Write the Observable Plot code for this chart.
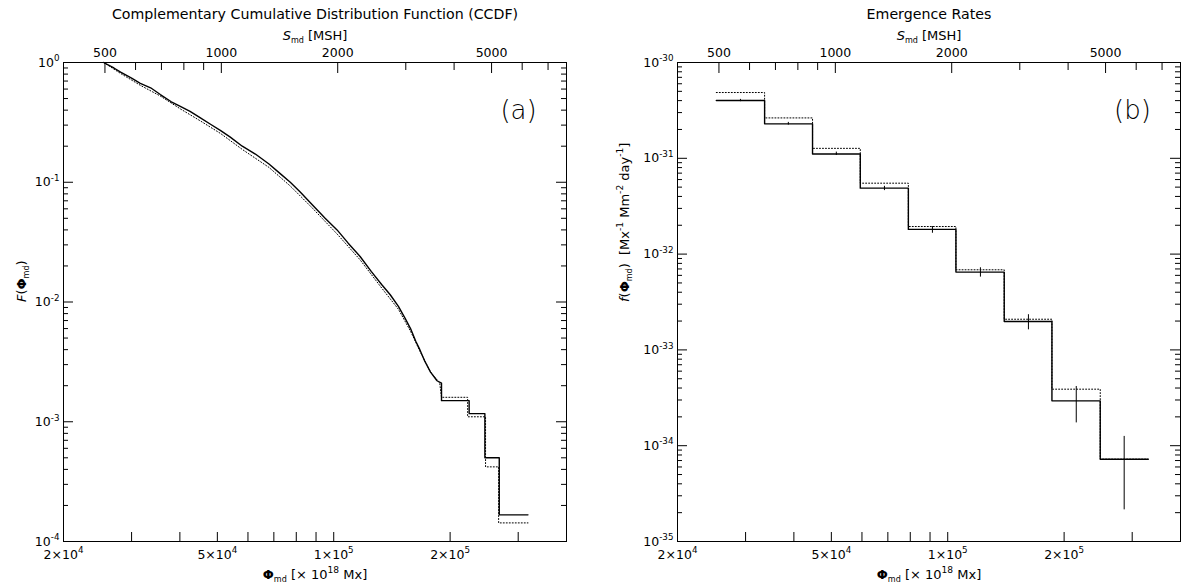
<!DOCTYPE html>
<html>
<head>
<meta charset="utf-8">
<script src="https://cdn.jsdelivr.net/npm/d3@7"></script>
<script src="https://cdn.jsdelivr.net/npm/@observablehq/plot@0.6"></script>
<style>
  html, body { margin: 0; padding: 0; background: #fff; }
  #wrap { position: relative; width: 1183px; height: 586px; overflow: hidden; }
  .panel { position: absolute; top: 0; }
</style>
</head>
<body>
<div id="wrap">
  <div id="left" class="panel" style="left:0px"></div>
  <div id="right" class="panel" style="left:590px"></div>
</div>
<script>
// ---------------- data ----------------
// Panel (a): CCDF, x = flux Phi_md [1e18 Mx], y = F
const ccdfPhi = [2.54e4, 2.70e4, 2.81e4, 3.00e4, 3.16e4, 3.36e4, 3.56e4, 3.80e4, 4.01e4, 4.25e4,
  4.52e4, 4.80e4, 5.10e4, 5.40e4, 5.80e4, 6.27e4, 6.80e4, 7.27e4, 7.72e4, 8.19e4,
  8.80e4, 9.50e4, 1.02e5, 1.09e5, 1.17e5, 1.25e5, 1.33e5, 1.40e5, 1.47e5, 1.53e5,
  1.58e5, 1.63e5, 1.67e5, 1.72e5, 1.78e5, 1.85e5, 1.90e5, 1.90e5, 2.24e5, 2.24e5,
  2.46e5, 2.46e5, 2.68e5, 2.68e5, 3.18e5];
const ccdfSolid = [1.0, 0.90, 0.83, 0.74, 0.67, 0.615, 0.54, 0.47, 0.43, 0.39,
  0.345, 0.305, 0.27, 0.238, 0.20, 0.172, 0.142, 0.118, 0.100, 0.083,
  0.065, 0.050, 0.040, 0.031, 0.024, 0.018, 0.0140, 0.0115, 0.0092, 0.0073,
  0.0060, 0.0047, 0.0040, 0.0032, 0.0026, 0.0022, 0.0021, 0.0015, 0.0015, 0.00117,
  0.00117, 0.0005, 0.0005, 0.000167, 0.000167];
const ccdfPhiDot = [2.54e4, 2.81e4, 3.16e4, 3.56e4, 4.01e4, 4.52e4, 5.10e4, 5.80e4, 6.80e4, 7.72e4,
  8.80e4, 1.02e5, 1.17e5, 1.33e5, 1.47e5, 1.58e5, 1.67e5, 1.78e5, 1.88e5, 1.90e5,
  2.22e5, 2.22e5, 2.47e5, 2.47e5, 2.67e5, 2.67e5, 3.18e5];
const ccdfDotted = [1.0, 0.81, 0.645, 0.525, 0.41, 0.325, 0.255, 0.188, 0.133, 0.093,
  0.061, 0.037, 0.0225, 0.0131, 0.0087, 0.0057, 0.0039, 0.0026, 0.0021, 0.0016,
  0.0016, 0.0011, 0.0011, 0.00042, 0.00042, 0.000143, 0.000143];

// Panel (b): emergence rates histogram
const rateEdges = [2.52e4, 3.36e4, 4.47e4, 5.94e4, 7.91e4, 1.05e5, 1.40e5, 1.86e5, 2.48e5, 3.30e5];
const rateCenters = [2.91e4, 3.87e4, 5.15e4, 6.86e4, 9.13e4, 1.215e5, 1.617e5, 2.15e5, 2.86e5];
const rateSolid = [4.01e-31, 2.29e-31, 1.11e-31, 4.88e-32, 1.81e-32, 6.49e-33, 1.98e-33, 2.94e-34, 7.23e-35];
const rateDotted = [4.86e-31, 2.64e-31, 1.27e-31, 5.5e-32, 1.94e-32, 6.86e-33, 2.09e-33, 3.89e-34, 7.23e-35];
const rateErrLo = [3.90e-31, 2.22e-31, 1.07e-31, 4.6e-32, 1.65e-32, 5.75e-33, 1.62e-33, 1.73e-34, 2.14e-35];
const rateErrHi = [4.12e-31, 2.37e-31, 1.16e-31, 5.1e-32, 1.94e-32, 7.2e-33, 2.33e-33, 4.15e-34, 1.25e-34];

// axes
const phiTicks = [3e4, 4e4, 5e4, 6e4, 7e4, 8e4, 9e4, 1e5, 2e5, 3e5];
const phiLabelVals = [2e4, 5e4, 1e5, 2e5];
const phiLabels = ["2×10^{4}", "5×10^{4}", "1×10^{5}", "2×10^{5}"];
const mshMajor = [500, 1000, 2000, 5000];
const mshMinor = [600, 700, 800, 900, 3000, 4000, 6000, 7000];
const PHI_PER_MSH = 51.2; // flux per MSH read from the alignment of top/bottom axes
const ccdfDecades = [1e-4, 1e-3, 1e-2, 1e-1, 1];
const ccdfDecadeLabels = ["10^{-4}", "10^{-3}", "10^{-2}", "10^{-1}", "10^{0}"];
const rateDecades = [1e-35, 1e-34, 1e-33, 1e-32, 1e-31, 1e-30];
const rateDecadeLabels = ["10^{-35}", "10^{-34}", "10^{-33}", "10^{-32}", "10^{-31}", "10^{-30}"];

// ---------------- helpers ----------------
const FONT = "'DejaVu Sans', 'Liberation Sans', sans-serif";
const H = 586, MT = 62, MB = 45;
const FH = H - MT - MB;

function minorsOf(decades) {
  const out = [];
  for (let i = 0; i < decades.length - 1; i++)
    for (let m = 2; m <= 9; m++) out.push(decades[i] * m);
  return out;
}

function frameMarks(FW, decades, labels) {
  const minors = minorsOf(decades);
  return [
    Plot.frame({stroke: "black", strokeWidth: 1}),
    Plot.ruleX(phiTicks, {x: d => d, insetTop: FH - 9, stroke: "black"}),
    Plot.ruleX(mshMajor, {x: d => d * PHI_PER_MSH, insetBottom: FH - 11, stroke: "black"}),
    Plot.ruleX(mshMinor, {x: d => d * PHI_PER_MSH, insetBottom: FH - 8, stroke: "black"}),
    Plot.ruleY(decades, {y: d => d, insetRight: FW - 10, stroke: "black"}),
    Plot.ruleY(decades, {y: d => d, insetLeft: FW - 10, stroke: "black"}),
    Plot.ruleY(minors, {y: d => d, insetRight: FW - 5, stroke: "black"}),
    Plot.ruleY(minors, {y: d => d, insetLeft: FW - 5, stroke: "black"}),
    Plot.text(phiLabelVals, {x: d => d, text: (d, i) => phiLabels[i], frameAnchor: "bottom", dy: 17, fontSize: 12.5}),
    Plot.text(mshMajor, {x: d => d * PHI_PER_MSH, text: d => String(d), frameAnchor: "top", dy: -14, fontSize: 12.5}),
    Plot.text(decades, {y: d => d, text: (d, i) => labels[i], frameAnchor: "left", dx: -4, textAnchor: "end", fontSize: 12.5}),
    Plot.text(["~{S}_{md} [MSH]"], {text: d => d, frameAnchor: "top", dy: -32, fontSize: 13}),
    Plot.text(["#{Φ}_{md} [× 10^{18} Mx]"], {text: d => d, frameAnchor: "bottom", dy: 37, fontSize: 13})
  ];
}

function richify(root) {
  const NS = "http://www.w3.org/2000/svg";
  root.querySelectorAll("text").forEach(t => {
    if (t.querySelector("tspan")) return;
    const s = t.textContent;
    if (!/[_^~#]\{/.test(s)) return;
    const fs = parseFloat(getComputedStyle(t).fontSize) || 12;
    t.textContent = "";
    const re = /([_^~#])\{([^}]*)\}|([^_^~#]+|[_^~#])/g;
    let shift = 0, m;
    while ((m = re.exec(s))) {
      const ts = document.createElementNS(NS, "tspan");
      let target = 0;
      if (m[1]) {
        ts.textContent = m[2];
        if (m[1] === "_") { target = 0.28 * fs; ts.setAttribute("font-size", (0.62 * fs) + "px"); }
        else if (m[1] === "^") { target = -0.42 * fs; ts.setAttribute("font-size", (0.7 * fs) + "px"); }
        else if (m[1] === "~") ts.setAttribute("font-style", "italic");
        else if (m[1] === "#") ts.setAttribute("font-weight", "bold");
      } else ts.textContent = m[3];
      const d = target - shift;
      if (d) ts.setAttribute("dy", d + "px");
      shift = target;
      t.appendChild(ts);
    }
  });
}

// ---------------- panel (a) ----------------
const leftW = 590, leftML = 63, leftMR = 24;
const leftFW = leftW - leftML - leftMR;
const solidA = ccdfPhi.map((x, i) => ({x, y: ccdfSolid[i]}));
const dotA = ccdfPhiDot.map((x, i) => ({x, y: ccdfDotted[i]}));

const left = Plot.plot({
  width: leftW, height: H, marginLeft: leftML, marginRight: leftMR, marginTop: MT, marginBottom: MB,
  x: {type: "log", domain: [2e4, 4e5], axis: null},
  y: {type: "log", domain: [1e-4, 1], axis: null},
  style: {fontFamily: FONT, fontSize: "12px", color: "black", background: "white", overflow: "visible"},
  marks: [
    ...frameMarks(leftFW, ccdfDecades, ccdfDecadeLabels),
    Plot.text(["Complementary Cumulative Distribution Function (CCDF)"], {text: d => d, frameAnchor: "top", dy: -54, fontSize: 14.2}),
    Plot.text(["~{F}(#{Φ}_{md})"], {text: d => d, frameAnchor: "left", dx: -42, rotate: -90, fontSize: 13}),
    Plot.text(["(a)"], {text: d => d, frameAnchor: "top-right", dx: -48, dy: 38, fontSize: 26, fontWeight: 200, textAnchor: "middle"}),
    Plot.line(dotA, {x: "x", y: "y", stroke: "black", strokeWidth: 1, strokeDasharray: "1,2"}),
    Plot.line(solidA, {x: "x", y: "y", stroke: "black", strokeWidth: 1.4})
  ]
});
document.getElementById("left").appendChild(left);

// ---------------- panel (b) ----------------
const rightW = 593, rightML = 87, rightMR = 3;
const rightFW = rightW - rightML - rightMR;
const stepSolid = rateEdges.map((x, i) => ({x, y: rateSolid[Math.min(i, rateSolid.length - 1)]}));
const stepDot = rateEdges.map((x, i) => ({x, y: rateDotted[Math.min(i, rateDotted.length - 1)]}));
const errs = rateCenters.map((c, i) => ({c, lo: rateErrLo[i], hi: rateErrHi[i]}));

const right = Plot.plot({
  width: rightW, height: H, marginLeft: rightML, marginRight: rightMR, marginTop: MT, marginBottom: MB,
  x: {type: "log", domain: [2e4, 4e5], axis: null},
  y: {type: "log", domain: [1e-35, 1e-30], axis: null},
  style: {fontFamily: FONT, fontSize: "12px", color: "black", background: "white", overflow: "visible"},
  marks: [
    ...frameMarks(rightFW, rateDecades, rateDecadeLabels),
    Plot.text(["Emergence Rates"], {text: d => d, frameAnchor: "top", dy: -54, fontSize: 14.2}),
    Plot.text(["~{f}(#{Φ}_{md})  [Mx^{-1} Mm^{-2} day^{-1}]"], {text: d => d, frameAnchor: "left", dx: -53, rotate: -90, fontSize: 13}),
    Plot.text(["(b)"], {text: d => d, frameAnchor: "top-right", dx: -48, dy: 38, fontSize: 26, fontWeight: 200, textAnchor: "middle"}),
    Plot.line(stepDot, {x: "x", y: "y", curve: "step-after", stroke: "black", strokeWidth: 1, strokeDasharray: "1,2"}),
    Plot.line(stepSolid, {x: "x", y: "y", curve: "step-after", stroke: "black", strokeWidth: 1.4}),
    Plot.ruleX(errs, {x: "c", y1: "lo", y2: "hi", stroke: "black", strokeWidth: 1})
  ]
});
document.getElementById("right").appendChild(right);

richify(left);
richify(right);
</script>
</body>
</html>
